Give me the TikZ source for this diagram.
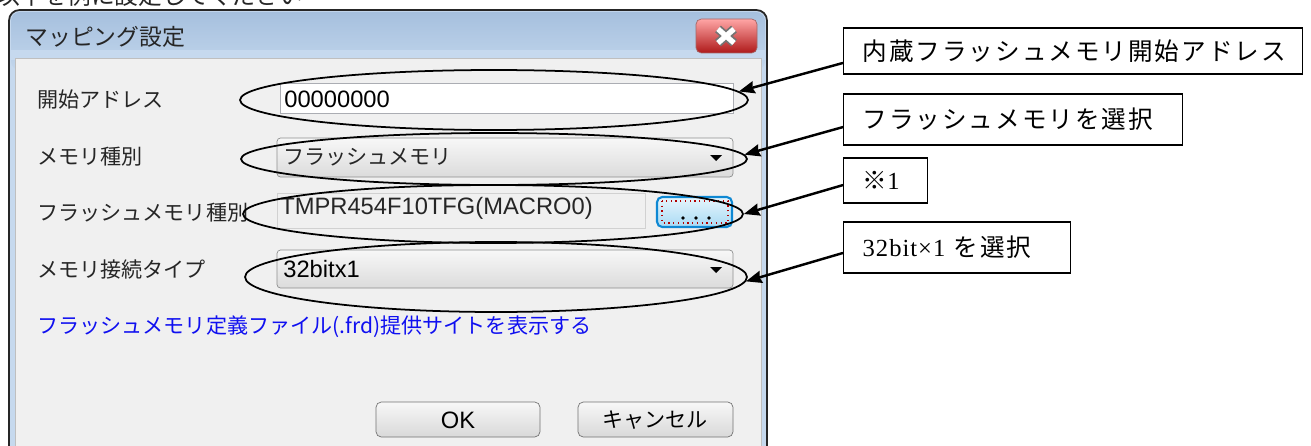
\documentclass[tikz,border=0pt]{standalone}
\usepackage{fontspec}
\setmainfont{Liberation Sans}
\newfontfamily\jp{Noto Sans CJK JP}
\newfontfamily\jpspaced{Noto Sans CJK JP}[LetterSpace=8]
\newfontfamily\latinserif{Liberation Serif}[LetterSpace=4]
\usepackage{tikz}
\usetikzlibrary{shapes.geometric, arrows.meta, positioning}

\definecolor{framebl}{HTML}{C6D9EE}
\definecolor{titletop}{HTML}{A6C0DE}
\definecolor{titlebot}{HTML}{C2D6EC}
\definecolor{clientgr}{HTML}{F0F0F0}
\definecolor{combogray}{HTML}{8E8F8F}
\definecolor{fieldgray}{HTML}{ABADB3}
\definecolor{linkblue}{HTML}{1010F0}
\definecolor{btntop}{HTML}{E6F5FC}
\definecolor{btnbot}{HTML}{A9DAF4}

\newcommand\uifont{\jp\fontsize{12pt}{14pt}\selectfont}
\newcommand\uilatin{\fontsize{13.5pt}{16pt}\selectfont}
\newcommand\calloutfont{\jpspaced\fontsize{14pt}{17pt}\selectfont}

\begin{document}
\begin{tikzpicture}[x=0.02cm, y=-0.02cm,
    lbl/.style={anchor=west, inner sep=0pt, text=black!85, font=\uifont},
    combo/.style={draw=combogray, rounded corners=2pt, top color=black!3, bottom color=black!14},
    pushbtn/.style={draw=black!55, rounded corners=3pt, top color=black!3, bottom color=black!15},
    ring/.style={draw, ellipse, line width=1pt, inner sep=0pt},
    callout/.style={draw, line width=0.8pt, fill=white, anchor=west, inner xsep=0.38cm, inner ysep=0pt, font=\calloutfont},
    pointer/.style={line width=1.4pt, -{Stealth[length=9pt,width=7pt,inset=1pt]}}]
    \useasboundingbox (0,0) rectangle (1311,446);
    \clip (0,0) rectangle (1311,446);
    \fill[white] (0,0) rectangle (1311,446);

    % Line above the dialog (cut off)
    \node[anchor=base west, inner sep=0pt, text=black!85, font=\jp\fontsize{13.5pt}{16pt}\selectfont] (intro) at (-4,5) {以下を例に設定してください};

    % Window frame
    \draw[draw=black!85, fill=framebl, line width=1pt, rounded corners=6pt] (9,10) rectangle (767,480);
    \shade[top color=titletop, bottom color=titlebot, rounded corners=5pt] (11,12) rectangle (765,70);
    \fill[framebl] (11,50) rectangle (765,60);
    \draw[fill=clientgr, draw=black!25] (15,58) rectangle (761,480);
    \node[anchor=west, inner sep=0pt, text=black!85, font=\jp\fontsize{13pt}{15pt}\selectfont] (title) at (25,37) {マッピング設定};

    % Close button
    \draw[draw=black!60!red!60, top color=red!35!white, bottom color=red!65!black!90, rounded corners=3pt] (696,19) rectangle (757,53);
    \draw[black!55, line width=5pt] (718,29) -- (734,43) (718,43) -- (734,29);
    \draw[white, line width=3pt] (718,29) -- (734,43) (718,43) -- (734,29);

    % Labels
    \node[lbl] (lstart) at (37,100) {開始アドレス};
    \node[lbl] (lkind) at (37,157) {メモリ種別};
    \node[lbl] (lflash) at (37,213) {フラッシュメモリ種別};
    \node[lbl] (lbus) at (37,269) {メモリ接続タイプ};

    % Fields
    \draw[draw=fieldgray, fill=white] (280,83) rectangle (733,113);
    \node[anchor=west, inner sep=0pt, font=\uilatin] (vstart) at (284,99) {00000000};
    \draw[combo] (277,138) rectangle (733,177);
    \node[lbl] (vkind) at (283,157) {フラッシュメモリ};
    \fill (710,155) -- (722,155) -- (716,161) -- cycle;
    \draw[draw=black!18, fill=clientgr] (277,193) rectangle (645,228);
    \node[anchor=west, inner sep=0pt, font=\uilatin, text=black!85] (vflash) at (280,208) {TMPR454F10TFG(MACRO0)};
    \draw[draw=cyan!70!blue, line width=1.2pt, top color=btntop, bottom color=btnbot, rounded corners=3pt] (657,197) rectangle (732,227);
    \draw[red!70!black, dotted, line width=0.7pt] (662,201) rectangle (728,223);
    \foreach \dx in {683,696,709}
        \fill (\dx,218) circle (1.8);
    \draw[combo] (277,250) rectangle (733,288);
    \node[anchor=west, inner sep=0pt, font=\uilatin] (vbus) at (283,269) {32bitx1};
    \fill (710,267) -- (722,267) -- (716,273) -- cycle;

    % Link and buttons
    \node[lbl, text=linkblue] (link) at (37,327) {フラッシュメモリ定義ファイル(.frd)提供サイトを表示する};
    \draw[pushbtn] (376,402) rectangle (540,437);
    \node[font=\uilatin] (ok) at (458,420) {OK};
    \draw[pushbtn] (578,402) rectangle (733,437);
    \node[font=\uifont] (cancel) at (655,420) {キャンセル};

    % Rings
    \node[ring, minimum width=10.16cm, minimum height=1.2cm] (e1) at (494,100) {};
    \node[ring, minimum width=10.12cm, minimum height=1.04cm] (e2) at (494,159) {};
    \node[ring, minimum width=10cm, minimum height=1.16cm] (e3) at (493,214) {};
    \node[ring, minimum width=10.04cm, minimum height=1.4cm] (e4) at (496,277) {};

    % Callouts
    \node[callout, minimum height=0.92cm, text width=8.42cm] (c1) at (843,51) {内蔵フラッシュメモリ開始アドレス};
    \node[callout, minimum height=1.02cm, text width=6.02cm] (c2) at (843,119.5) {フラッシュメモリを選択};
    \node[callout, minimum height=0.9cm, text width=0.92cm] (c3) at (843,180.5) {※{\latinserif 1}};
    \node[callout, minimum height=1.02cm, text width=3.78cm] (c4) at (843,247.5) {{\latinserif 32bit×1} を選択};

    \draw[pointer] ([yshift=-6.8pt]c1.west) -- (e1.2);
    \draw[pointer] ([yshift=-4.3pt]c2.west) -- (e2.1);
    \draw[pointer] ([yshift=-2.6pt]c3.west) -- (e3.0);
    \draw[pointer] ([yshift=-3.1pt]c4.west) -- (e4.-1);
\end{tikzpicture}
\end{document}
